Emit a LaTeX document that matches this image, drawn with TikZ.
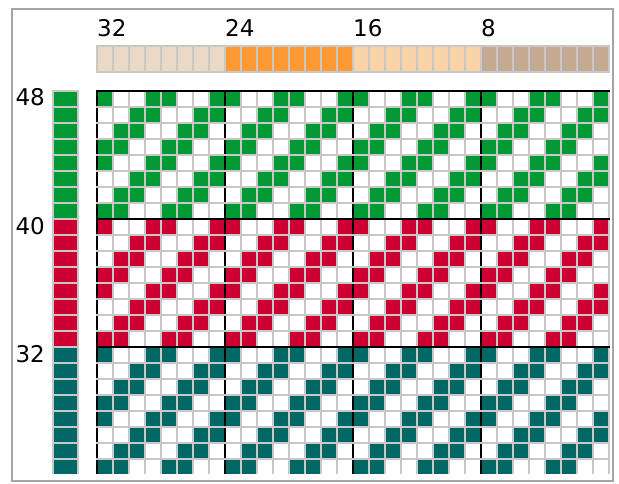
\documentclass[tikz,border=0pt]{standalone}
\usepackage{fontspec}
\setmainfont{DejaVu Sans}
\definecolor{wgreen}{HTML}{009933}
\definecolor{wred}{HTML}{CC0033}
\definecolor{wteal}{HTML}{006666}
\definecolor{gridgray}{HTML}{C8C8C8}
\definecolor{framegray}{HTML}{A5A5A5}
\definecolor{barA}{HTML}{EAD9C4}
\definecolor{barB}{HTML}{FF9933}
\definecolor{barC}{HTML}{F8D4A8}
\definecolor{barD}{HTML}{C4AA91}
\tikzset{
  gridline/.style={draw=gridgray, line width=2pt},
  blackline/.style={draw=black, line width=2pt},
  numlabel/.style={inner sep=0pt, font=\fontsize{23}{23}\selectfont},
}
\begin{document}
\begin{tikzpicture}[x=1pt,y=-1pt]
\useasboundingbox (0,0) rectangle (619,484);
\fill[white] (0,0) rectangle (619,484);
\draw[framegray, line width=2.2pt] (12,9) rectangle (613,481);

% top bar
\foreach \c in {0,...,31} {
  \pgfmathtruncatemacro\q{int(\c/8)}
  \ifcase\q \def\bc{barA}\or \def\bc{barB}\or \def\bc{barC}\else \def\bc{barD}\fi
  \fill[\bc] ({97+16*\c},46) rectangle ++(16,26);
}
\foreach \k in {0,...,32} { \draw[gridline] ({97+16*\k},45) -- ({97+16*\k},73); }
\draw[gridline] (96,46) -- (610,46);
\draw[gridline] (96,72) -- (610,72);

% labels
\node[numlabel, anchor=base west] (t32) at (97,37) {32};
\node[numlabel, anchor=base west] (t24) at (225,37) {24};
\node[numlabel, anchor=base west] (t16) at (353,37) {16};
\node[numlabel, anchor=base west] (t8) at (481,37) {8};
\node[numlabel, anchor=base east] (l48) at (45,106) {48};
\node[numlabel, anchor=base east] (l40) at (45,234) {40};
\node[numlabel, anchor=base east] (l32) at (45,362) {32};

\begin{scope}
\clip (40,89) rectangle (612,473);
% left bar
\foreach \b/\col in {0/wgreen,1/wred,2/wteal} {
  \fill[\col] (53,{91+128*\b}) rectangle (78,{91+128*\b+128});
}
\draw[gridline] (53,90) -- (53,474);
\draw[gridline] (78,90) -- (78,474);
\foreach \k in {0,...,24} { \draw[gridline] (52,{91+16*\k}) -- (79,{91+16*\k}); }

% weave cells
\foreach \b/\col in {0/wgreen,1/wred,2/wteal} {
  \foreach \r in {0,...,7} {
    \foreach \c in {0,...,31} {
      \pgfmathtruncatemacro\f{mod(\c+\r+1,4)}
      \ifnum\f<2
        \fill[\col] ({97+16*\c},{91+128*\b+16*\r}) rectangle ++(16,16);
      \fi
    }
  }
}
% gray vertical lines
\foreach \k in {0,...,32} { \draw[gridline] ({97+16*\k},90) -- ({97+16*\k},474); }
% black vertical block lines
\foreach \k in {0,1,2,3} { \draw[blackline] ({97+128*\k},90) -- ({97+128*\k},474); }
% gray horizontal lines
\foreach \k in {0,...,24} { \draw[gridline] (96,{91+16*\k}) -- (610,{91+16*\k}); }
% black horizontal block lines
\foreach \k in {0,1,2} { \draw[blackline] (96,{91+128*\k}) -- (610,{91+128*\k}); }
\end{scope}
\end{tikzpicture}
\end{document}
